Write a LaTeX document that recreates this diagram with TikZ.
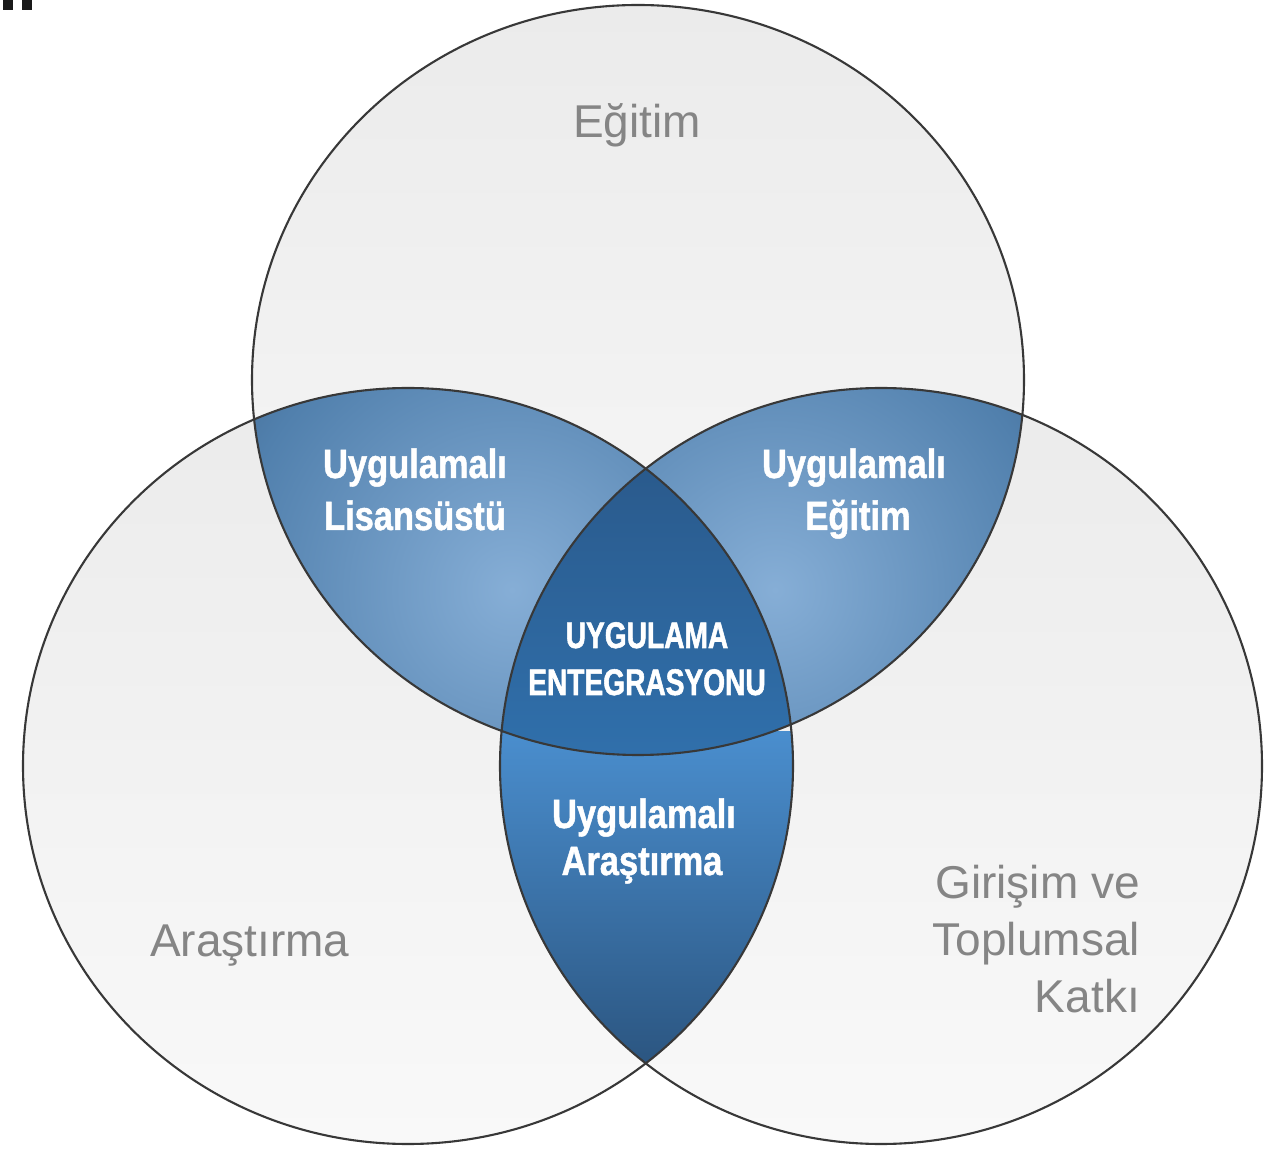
\documentclass[tikz,border=0pt]{standalone}
\usepackage{fontspec}
\setmainfont{Liberation Sans}
\newfontfamily\condfont[FakeStretch=0.84, BoldFeatures={FakeBold=1.2}]{Liberation Sans}
\newfontfamily\corefont[FakeStretch=0.76, BoldFeatures={FakeBold=1.4}]{Liberation Sans}
\definecolor{lensin}{HTML}{86AED6}
\definecolor{lensmid}{HTML}{5180AD}
\definecolor{lensout}{HTML}{2A4565}
\definecolor{labelgray}{HTML}{858585}
\definecolor{outline}{HTML}{383838}
\definecolor{circtop}{HTML}{EBEBEB}
\definecolor{circbot}{HTML}{F9F9F9}
\definecolor{centop}{HTML}{2A5A8C}
\definecolor{cenbot}{HTML}{3070AC}
\definecolor{bottop}{HTML}{4A8ECE}
\definecolor{botbot}{HTML}{2B5580}
\pgfdeclareradialshading{lensshade}{\pgfpoint{0bp}{0bp}}{color(0bp)=(lensin); color(13bp)=(lensmid); color(25bp)=(lensout); color(50bp)=(lensout)}
\tikzset{
  outerlabel/.style={font=\fontsize{46}{57}\selectfont, text=labelgray, inner sep=0pt},
  innerlabel/.style={font=\condfont\bfseries\fontsize{41}{48}\selectfont, text=white, inner sep=0pt},
  corelabel/.style={font=\corefont\bfseries\fontsize{37}{44}\selectfont, text=white, inner sep=0pt},
  ring/.style={draw=outline, line width=2.1pt}
}
\def\circTop{(638,772) ellipse [x radius=386, y radius=375]}
\def\circLeft{(408,386) ellipse [x radius=385, y radius=378]}
\def\circRight{(881,386) ellipse [x radius=381, y radius=378]}
\begin{document}
\begin{tikzpicture}[x=1pt,y=1pt]
\useasboundingbox (0,0) rectangle (1266,1152);
\fill[white] (0,0) rectangle (1266,1152);
% corner marks
\fill[black!90] (3,1152) rectangle (13,1142);
\fill[black!90] (22,1152) rectangle (32,1142);
% grey discs
\shade[top color=circtop, bottom color=circbot] \circTop;
\shade[top color=circtop, bottom color=circbot] \circLeft;
\shade[top color=circtop, bottom color=circbot] \circRight;
% top-left lens
\begin{scope}
  \clip \circTop;
  \clip \circLeft;
  \shade[shading=lensshade] (512,562) circle (545);
\end{scope}
% top-right lens
\begin{scope}
  \clip \circTop;
  \clip \circRight;
  \shade[shading=lensshade] (775,562) circle (545);
\end{scope}
% bottom lens
\begin{scope}
  \clip \circLeft;
  \clip \circRight;
  \shade[top color=bottop, bottom color=botbot] (480,420) rectangle (810,85);
\end{scope}
% centre
\begin{scope}
  \clip \circLeft;
  \clip \circRight;
  \clip \circTop;
  \shade[top color=centop, bottom color=cenbot] (480,690) rectangle (810,390);
\end{scope}
% outlines
\draw[ring] \circTop;
\draw[ring] \circLeft;
\draw[ring] \circRight;
% labels
\node[outerlabel, anchor=base] (edu) at (637,1014) {Eğitim};
\node[outerlabel, anchor=base west] (res) at (150,196) {Araştırma};
\node[outerlabel, anchor=base east] (ent1) at (1140,254) {Girişim ve};
\node[outerlabel, anchor=base east] (ent2) at (1140,197) {Toplumsal};
\node[outerlabel, anchor=base east] (ent3) at (1140,140) {Katkı};
\node[innerlabel, anchor=base] (ls1) at (415,674) {Uygulamalı};
\node[innerlabel, anchor=base] (ls2) at (415,622) {Lisansüstü};
\node[innerlabel, anchor=base] (ue1) at (854,674) {Uygulamalı};
\node[innerlabel, anchor=base] (ue2) at (858,622) {Eğitim};
\node[corelabel, anchor=base] (ci1) at (647,504) {UYGULAMA};
\node[corelabel, anchor=base] (ci2) at (647,457) {ENTEGRASYONU};
\node[innerlabel, anchor=base] (ua1) at (644,324) {Uygulamalı};
\node[innerlabel, anchor=base] (ua2) at (642,277) {Araştırma};
\end{tikzpicture}
\end{document}
